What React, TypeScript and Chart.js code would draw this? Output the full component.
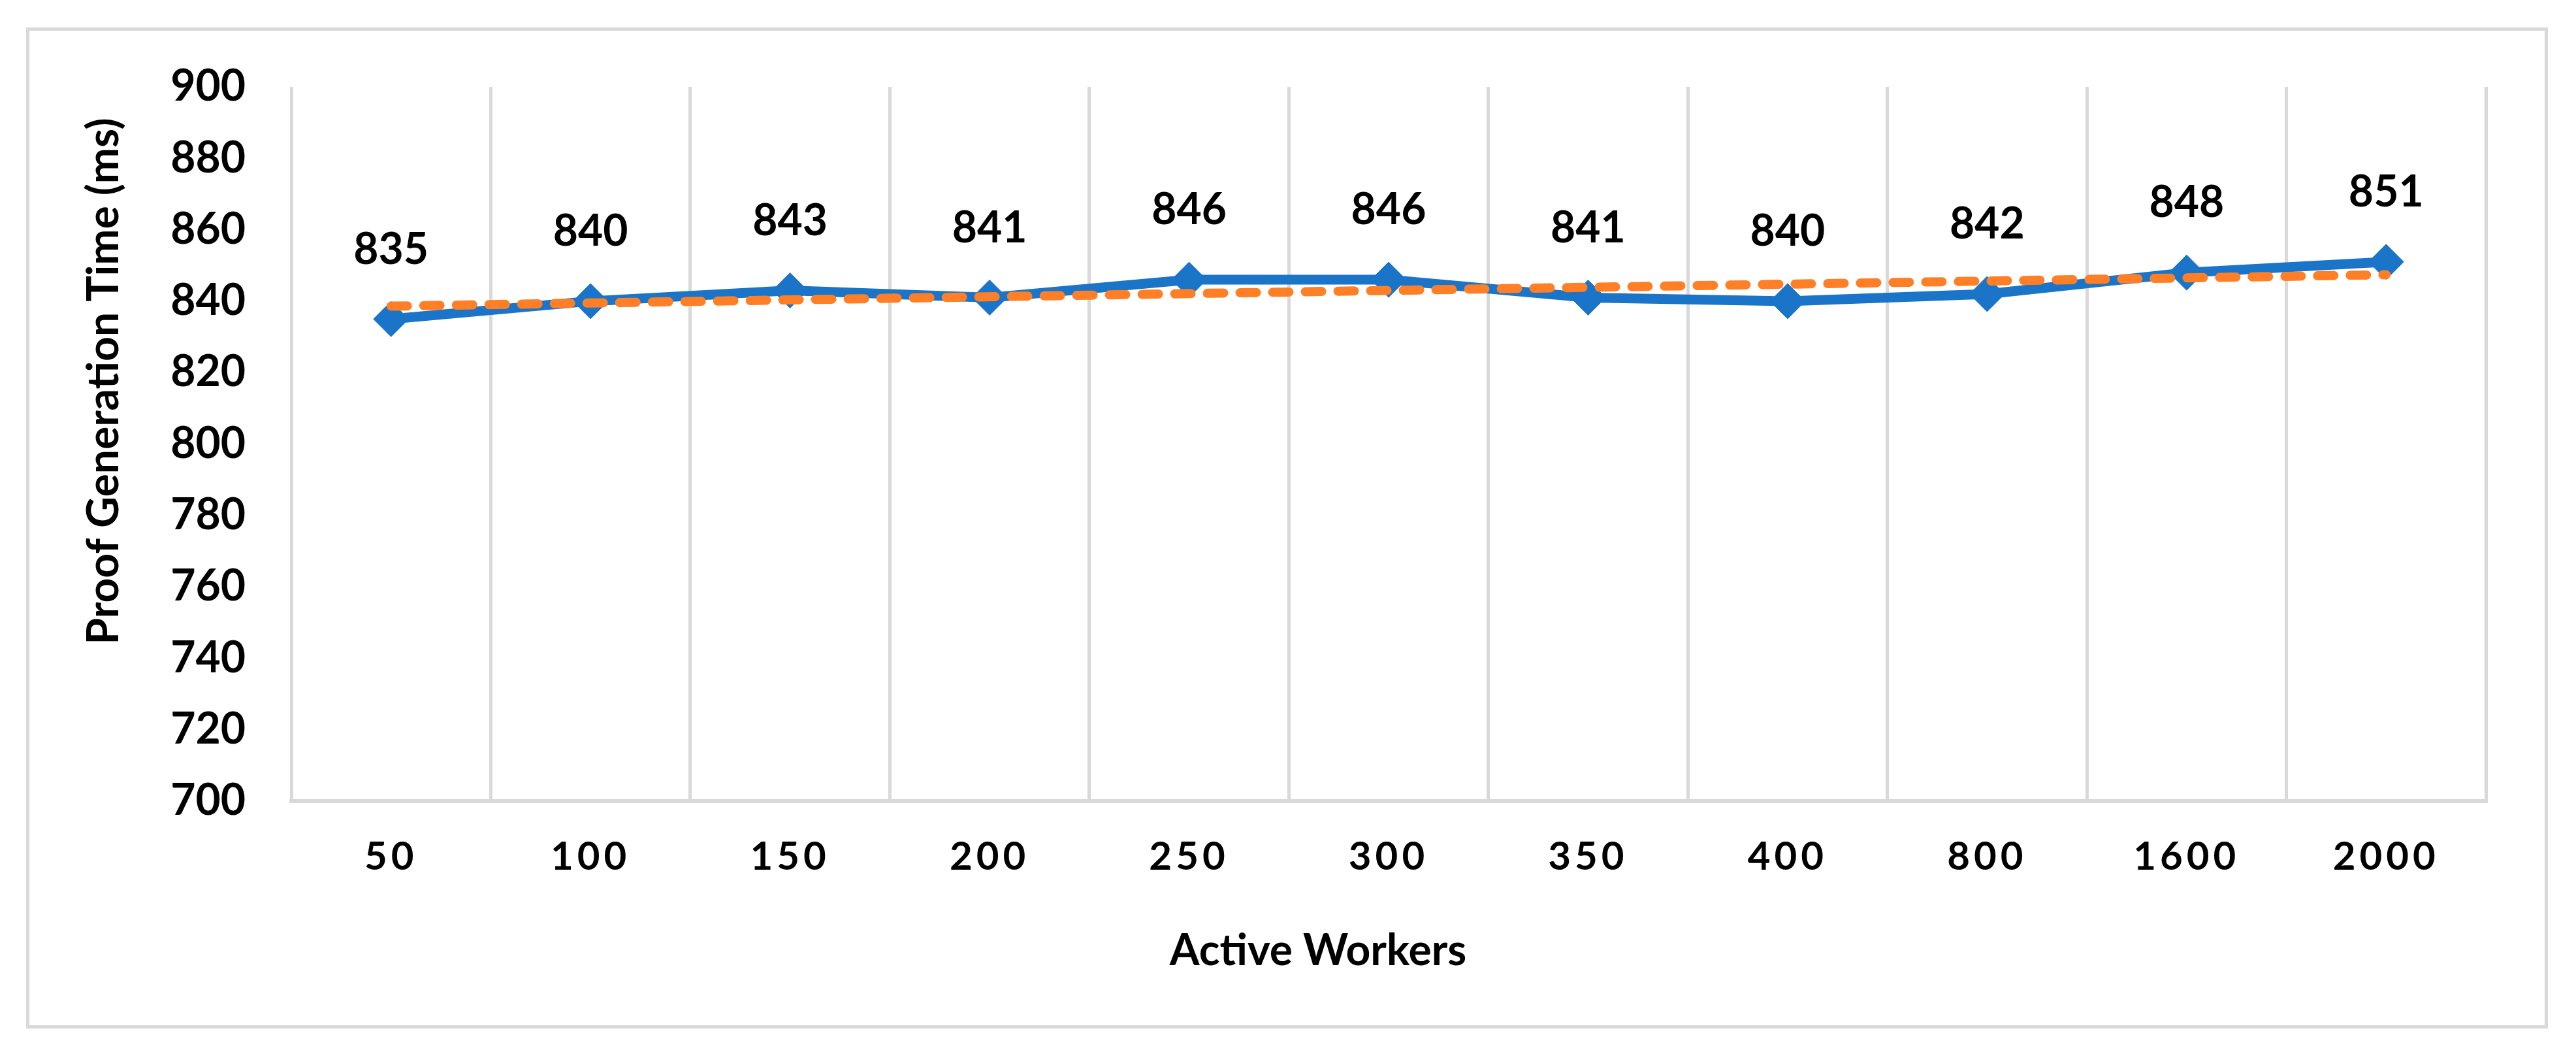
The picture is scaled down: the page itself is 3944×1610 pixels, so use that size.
import React, { useEffect, useRef } from 'react';
import { Chart, registerables, CategoryScale, LinearScale } from 'chart.js';

const categories = ['50', '100', '150', '200', '250', '300', '350', '400', '800', '1600', '2000'];
const proofTimes = [835, 840, 843, 841, 846, 846, 841, 840, 842, 848, 851];
const trendStart = 838.6;
const trendEnd = 847.4;
const yTickMin = 700;
const yTickMax = 900;
const yTickStep = 20;
const xTitle = 'Active Workers';
const yTitle = 'Proof Generation Time (ms)';

const trendValues = categories.map((_, i) =>
  i === 0 ? trendStart : i === categories.length - 1 ? trendEnd : null
);

const FONT = 'Lato';
const BLUE = '#1a74c7';
const ORANGE = '#ff7f27';
const GRID = '#d9d9d9';

class SpacedCategoryScale extends CategoryScale {
  static id = 'spacedCategory';
  drawLabels(chartArea: any) {
    const ctx: any = this.ctx;
    ctx.save();
    ctx.letterSpacing = '6px';
    super.drawLabels(chartArea);
    ctx.restore();
  }
  drawTitle() {
    const ctx = this.ctx;
    ctx.save();
    ctx.translate(-108, 0);
    super.drawTitle();
    ctx.restore();
  }
}

class ShiftedLinearScale extends LinearScale {
  static id = 'shiftedLinear';
  drawTitle() {
    const ctx = this.ctx;
    ctx.save();
    ctx.translate(0, -96);
    super.drawTitle();
    ctx.restore();
  }
}

Chart.register(...registerables, SpacedCategoryScale, ShiftedLinearScale);

const valueLabels = {
  id: 'valueLabels',
  afterDatasetsDraw(chart: any) {
    const meta = chart.getDatasetMeta(0);
    const ctx = chart.ctx;
    ctx.save();
    ctx.font = `bold 66px ${FONT}`;
    ctx.fillStyle = '#000';
    ctx.textAlign = 'center';
    ctx.textBaseline = 'middle';
    meta.data.forEach((pt: any, i: number) => {
      ctx.fillText(String(proofTimes[i]), pt.x, pt.y - 106);
    });
    ctx.restore();
  },
};

export default function App() {
  const canvasRef = useRef<HTMLCanvasElement | null>(null);

  useEffect(() => {
    let chart: Chart | null = null;
    let cancelled = false;
    const make = () => {
      if (cancelled || !canvasRef.current) return;
      chart = new Chart(canvasRef.current, {
        type: 'line',
        data: {
          labels: categories,
          datasets: [
            {
              label: 'Proof Generation Time',
              data: proofTimes,
              borderColor: BLUE,
              backgroundColor: BLUE,
              borderWidth: 15,
              tension: 0,
              pointStyle: 'rectRot',
              pointRadius: 27,
              pointBackgroundColor: BLUE,
              pointBorderColor: BLUE,
              pointBorderWidth: 1,
              order: 2,
            },
            {
              label: 'Linear trend',
              data: trendValues,
              borderColor: ORANGE,
              borderWidth: 14,
              borderDash: [25, 25],
              borderCapStyle: 'round',
              pointRadius: 0,
              spanGaps: true,
              tension: 0,
              order: 1,
            },
          ],
        },
        options: {
          responsive: false,
          animation: false,
          layout: { padding: { left: 0, right: 138, top: 133, bottom: 0 } },
          plugins: {
            legend: { display: false },
            tooltip: { enabled: false },
          },
          scales: {
            x: {
              type: 'spacedCategory' as any,
              offset: true,
              grid: {
                display: true,
                offset: true,
                color: GRID,
                lineWidth: 5,
                drawTicks: false,
              },
              border: { display: true, color: GRID, width: 6 },
              ticks: {
                font: { family: FONT, weight: 'bold', size: 60 },
                color: '#000',
                padding: 50,
                maxRotation: 0,
                autoSkip: false,
              },
              title: {
                display: true,
                text: xTitle,
                font: { family: FONT, weight: 'bold', size: 66 },
                color: '#000',
                padding: { top: 0, bottom: 115 },
              },
              afterFit: (s: any) => {
                s.height = 384;
              },
            },
            y: {
              type: 'shiftedLinear' as any,
              min: yTickMin,
              max: yTickMax,
              grid: { display: false, drawTicks: false },
              border: { display: false },
              ticks: {
                stepSize: yTickStep,
                font: { family: FONT, weight: 'bold', size: 66 },
                color: '#000',
                padding: 70,
              },
              title: {
                display: true,
                text: yTitle,
                font: { family: FONT, weight: 'bold', size: 66 },
                color: '#000',
                padding: { top: 120, bottom: 0 },
              },
              afterFit: (s: any) => {
                s.width = 446;
              },
            },
          },
        },
        plugins: [valueLabels],
      } as any);
    };
    const fontsReady = (document as any).fonts
      ? Promise.all([
          (document as any).fonts.load(`bold 66px ${FONT}`),
          (document as any).fonts.load(`bold 60px ${FONT}`),
        ]).catch(() => null)
      : Promise.resolve();
    fontsReady.then(make);
    return () => {
      cancelled = true;
      if (chart) chart.destroy();
    };
  }, []);

  return (
    <div
      style={{
        position: 'absolute',
        left: 0,
        top: 0,
        width: 3944,
        height: 1610,
        background: '#fff',
        overflow: 'hidden',
      }}
    >
      <canvas
        ref={canvasRef}
        width={3944}
        height={1610}
        style={{ position: 'absolute', left: 0, top: 0, width: 3944, height: 1610 }}
      />
      <div
        style={{
          position: 'absolute',
          left: 40,
          top: 42,
          width: 3861,
          height: 1532,
          border: `5px solid ${GRID}`,
          boxSizing: 'border-box',
          pointerEvents: 'none',
        }}
      />
    </div>
  );
}
